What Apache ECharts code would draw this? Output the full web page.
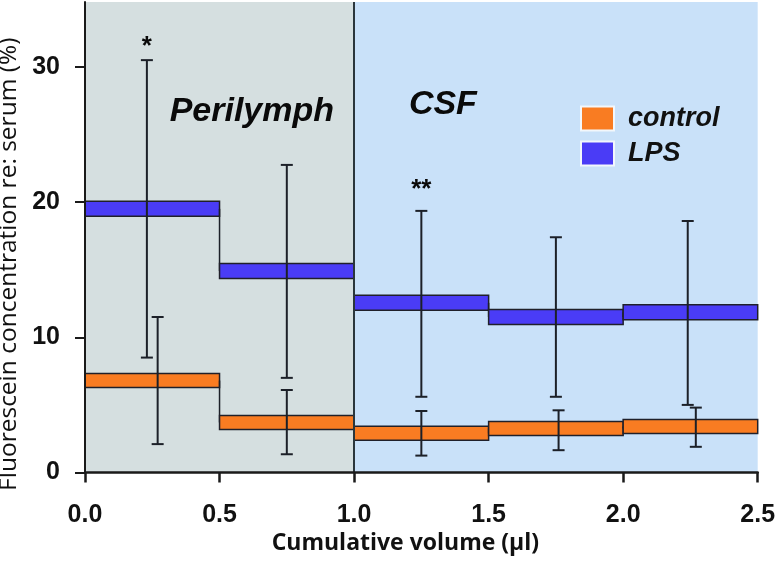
<!DOCTYPE html>
<html><head><meta charset="utf-8">
<script src="https://cdn.jsdelivr.net/npm/echarts@6/dist/echarts.min.js"></script>
<style>html,body{margin:0;padding:0;background:#fff}#c{width:777px;height:562px}</style>
</head><body><div id="c"></div>
<script>
// ---- data ----
const binStart = [0, 0.5, 1.0, 1.5, 2.0];
const binEnd = [0.5, 1.0, 1.5, 2.0, 2.5];
const controlMean = [6.8, 3.7, 2.9, 3.25, 3.4];
const lpsMean = [19.5, 14.9, 12.55, 11.5, 11.85];
const lpsErrX = [0.23, 0.75, 1.25, 1.75, 2.24];
const lpsErrLow = [8.5, 7.0, 5.6, 5.6, 5.0];
const lpsErrHigh = [30.5, 22.75, 19.35, 17.4, 18.6];
const controlErrX = [0.27, 0.75, 1.25, 1.76, 2.27];
const controlErrLow = [2.1, 1.35, 1.25, 1.65, 1.9];
const controlErrHigh = [11.5, 6.1, 4.55, 4.6, 4.8];
const regionFrom = [0, 1.0];
const regionTo = [1.0, 2.5];
const regionNames = ['Perilymph', 'CSF'];
const regionLabelX = [0.62, 1.33];
const regionLabelY = [26.7, 27.2];
const starX = [0.23, 1.25];
const starY = [31.5, 20.9];
const starText = ['*', '**'];
const xTicks = [0, 0.5, 1.0, 1.5, 2.0, 2.5];
const yTicks = [0, 10, 20, 30];
const yMax = 34.8;

const regionColors = ['#d5dfe0', '#c9e1f9'];
const ORANGE = '#f97c22';
const BLUE = '#4a3cf6';
const DARK = '#1c2028';

function bandSeries(name, means, color, thick) {
  return {
    type: 'custom', name: name, z: 3,
    itemStyle: { color: color },
    encode: { x: [0, 1], y: 2 },
    data: means.map((m, i) => [binStart[i], binEnd[i], m, i > 0 ? means[i - 1] : m]),
    renderItem: function (params, api) {
      const x0 = api.value(0), x1 = api.value(1), m = api.value(2), prev = api.value(3);
      const p0 = api.coord([x0, m]), p1 = api.coord([x1, m]), pp = api.coord([x0, prev]);
      return { type: 'group', children: [
        { type: 'line', shape: { x1: p0[0], y1: pp[1], x2: p0[0], y2: p0[1] }, style: { stroke: DARK, lineWidth: 1.5 } },
        { type: 'rect', shape: { x: p0[0], y: p0[1] - thick / 2, width: p1[0] - p0[0], height: thick },
          style: { fill: color, stroke: '#20202a', lineWidth: 1.5 } }
      ]};
    }
  };
}

function errSeries(xs, lows, highs) {
  return {
    type: 'custom', z: 5, silent: true,
    encode: { x: 0, y: [1, 2] },
    data: xs.map((x, i) => [x, lows[i], highs[i]]),
    renderItem: function (params, api) {
      const x = api.value(0);
      const lo = api.coord([x, api.value(1)]), hi = api.coord([x, api.value(2)]);
      const w = 6, st = { stroke: DARK, lineWidth: 2 };
      return { type: 'group', children: [
        { type: 'line', shape: { x1: lo[0], y1: lo[1], x2: hi[0], y2: hi[1] }, style: st },
        { type: 'line', shape: { x1: lo[0] - w, y1: lo[1], x2: lo[0] + w, y2: lo[1] }, style: st },
        { type: 'line', shape: { x1: hi[0] - w, y1: hi[1], x2: hi[0] + w, y2: hi[1] }, style: st }
      ]};
    }
  };
}

const chart = echarts.init(document.getElementById('c'));
chart.setOption({
  animation: false,
  backgroundColor: '#ffffff',
  grid: { left: 85, right: 19.3, top: 2, bottom: 89.5, containLabel: false, outerBoundsMode: 'none' },
  xAxis: {
    type: 'value', min: 0, max: 2.5, interval: 0.5, z: 10,
    axisLine: { show: true, onZero: false, lineStyle: { color: '#1a1a1a', width: 2.5 } },
    axisTick: { show: true, inside: false, length: 10, lineStyle: { color: '#1a1a1a', width: 2.5 } },
    splitLine: { show: false },
    axisLabel: { margin: 30, fontSize: 25, fontWeight: 'bold', color: '#111', fontFamily: 'Liberation Sans, Arial',
      formatter: v => v.toFixed(1) },
    name: 'Cumulative volume (µl)', nameLocation: 'middle', nameGap: 58,
    nameTextStyle: { fontSize: 23, fontWeight: 'bold', color: '#111', fontFamily: 'Open Sans', padding: [0, 32, 0, 0] }
  },
  yAxis: {
    type: 'value', min: 0, max: yMax, interval: 10, z: 10,
    axisLine: { show: true, lineStyle: { color: '#1a1a1a', width: 2 } },
    axisTick: { show: true, inside: false, length: 10, customValues: yTicks, lineStyle: { color: '#1a1a1a', width: 2 } },
    splitLine: { show: false },
    axisLabel: { margin: 25, fontSize: 25, fontWeight: 'bold', color: '#111', fontFamily: 'Liberation Sans, Arial',
      customValues: yTicks },
    name: 'Fluorescein concentration re: serum (%)', nameLocation: 'middle', nameGap: 53,
    nameTextStyle: { fontSize: 24.5, color: '#111', fontFamily: 'Open Sans', padding: [0, 54, 0, 0] }
  },
  legend: {
    data: ['control', 'LPS'], orient: 'vertical', left: 580, top: 105, padding: 0,
    itemWidth: 33, itemHeight: 24, itemGap: 8, icon: 'rect',
    itemStyle: { borderColor: '#f2f7fc', borderWidth: 2 },
    textStyle: { fontSize: 27, fontWeight: 'bold', fontStyle: 'italic', color: '#111',
      fontFamily: 'Liberation Sans, Arial', padding: [0, 0, 0, 9] }
  },
  series: [
    {
      type: 'custom', z: 1, silent: true,
      encode: { x: [0, 1] },
      data: regionFrom.map((f, i) => [f, regionTo[i], i]),
      renderItem: function (params, api) {
        const a = api.coord([api.value(0), yMax]), b = api.coord([api.value(1), 0]);
        return { type: 'rect', shape: { x: a[0], y: a[1], width: b[0] - a[0], height: b[1] - a[1] },
          style: { fill: regionColors[api.value(2)] } };
      },
      markLine: { silent: true, symbol: 'none', label: { show: false },
        lineStyle: { color: '#2a363c', width: 2, type: 'solid' },
        data: [{ xAxis: regionTo[0] }] }
    },
    bandSeries('control', controlMean, ORANGE, 14),
    bandSeries('LPS', lpsMean, BLUE, 15),
    errSeries(lpsErrX, lpsErrLow, lpsErrHigh),
    errSeries(controlErrX, controlErrLow, controlErrHigh),
    {
      type: 'scatter', symbolSize: 0, z: 6, silent: true, itemStyle: { opacity: 1 },
      data: regionNames.map((n, i) => ({ value: [regionLabelX[i], regionLabelY[i]], name: n })),
      label: { show: true, position: 'inside', formatter: p => p.name,
        fontSize: 34, fontWeight: 'bold', fontStyle: 'italic', color: '#0a0a0a', fontFamily: 'Liberation Sans, Arial' }
    },
    {
      type: 'scatter', symbolSize: 0, z: 6, silent: true, itemStyle: { opacity: 1 },
      data: starText.map((t, i) => ({ value: [starX[i], starY[i]], name: t })),
      label: { show: true, position: 'inside', formatter: p => p.name,
        fontSize: 26, fontWeight: 'bold', color: '#0a0a0a', fontFamily: 'Liberation Sans, Arial' }
    }
  ]
});
</script>
</body></html>
